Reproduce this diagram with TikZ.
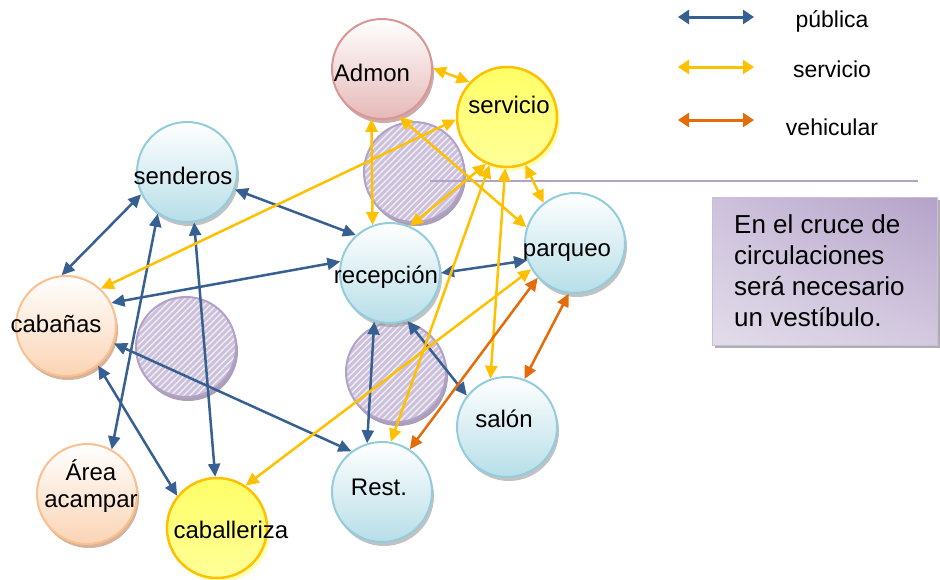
\documentclass[tikz,border=0pt]{standalone}
\usepackage{fontspec}
\setmainfont{Liberation Sans}
\usetikzlibrary{arrows.meta,shadows,patterns.meta,shadings}

\definecolor{pub}{HTML}{376092}
\definecolor{ser}{HTML}{FFC000}
\definecolor{veh}{HTML}{E46C0A}
\definecolor{bluefill}{HTML}{B7DEE8}
\definecolor{blueline}{HTML}{93CDDD}
\definecolor{orfill}{HTML}{FBD4B4}
\definecolor{orline}{HTML}{FAC090}
\definecolor{redfill}{HTML}{E6B9B8}
\definecolor{redline}{HTML}{D99694}
\definecolor{yeltop}{HTML}{FFFF66}
\definecolor{yelbot}{HTML}{FFFF99}
\definecolor{yelshadow}{HTML}{FFFFB0}
\definecolor{lilac}{HTML}{CCC0DA}
\definecolor{lilacline}{HTML}{B3A2C7}
\definecolor{stripe}{HTML}{F0EDF5}
\definecolor{orshadow}{HTML}{CDA082}
\definecolor{redshadow}{HTML}{BE9696}
\definecolor{lilacshadow}{HTML}{9687A5}
\definecolor{noteUL}{HTML}{CDC1DC}
\definecolor{noteUR}{HTML}{B4A2C8}
\definecolor{noteLL}{HTML}{E2DCEA}
\definecolor{noteLR}{HTML}{D4CAE0}

\tikzset{
  base/.style={circle, minimum size=100pt, inner sep=0pt, line width=2pt},
  greyshadow/.style={drop shadow={shadow xshift=2pt, shadow yshift=-4pt, fill=gray!80, opacity=0.6}},
  bluenode/.style={base, greyshadow, draw=blueline, top color=white, bottom color=bluefill},
  ornode/.style={base, drop shadow={shadow xshift=2pt, shadow yshift=-4pt, fill=orshadow, opacity=0.8}, draw=orline, top color=white, bottom color=orfill},
  rednode/.style={base, drop shadow={shadow xshift=2pt, shadow yshift=-4pt, fill=redshadow, opacity=0.8}, draw=redline, top color=white, bottom color=redfill},
  yelnode/.style={base, drop shadow={shadow xshift=3pt, shadow yshift=-4pt, fill=yelshadow, opacity=1}, draw=ser, line width=2.5pt, top color=yeltop, bottom color=yelbot},
  hatch/.style={base, drop shadow={shadow xshift=2pt, shadow yshift=-4pt, fill=lilacshadow, opacity=0.8}, preaction={fill=lilac}, pattern={Lines[angle=45,distance=4.5pt,line width=1.4pt]}, pattern color=stripe, draw=lilacline},
  lbl/.style={font=\fontsize{24}{27}\selectfont, inner sep=0pt, anchor=base},
  legtxt/.style={font=\fontsize{23}{27}\selectfont, inner sep=0pt, anchor=base},
  pubA/.style={draw=pub, line width=2.5pt, arrows={Triangle[length=13pt,width=12pt]-Triangle[length=13pt,width=12pt]}},
  serA/.style={draw=ser, line width=2.5pt, arrows={Triangle[length=13pt,width=12pt]-Triangle[length=13pt,width=12pt]}},
  vehA/.style={draw=veh, line width=2.5pt, arrows={Triangle[length=13pt,width=12pt]-Triangle[length=13pt,width=12pt]}},
  legA/.style={line width=3pt, arrows={Triangle[length=11pt,width=14pt]-Triangle[length=11pt,width=14pt]}},
  divider/.style={draw=lilacline, line width=2pt},
  notebox/.style={rectangle, minimum width=225pt, minimum height=148pt, inner sep=0pt, draw=lilacline!70, line width=0.8pt,
    drop shadow={shadow xshift=3pt, shadow yshift=-3pt, fill=gray!70, opacity=0.9},
    upper left=noteUL, upper right=noteUR, lower left=noteLL, lower right=noteLR},
  notetext/.style={font=\fontsize{26}{31.3}\selectfont, inner sep=0pt, align=left}
}

\begin{document}
\begin{tikzpicture}[x=1pt, y=-1pt]
\useasboundingbox (0,0) rectangle (940,579);

% vestibule (crossing) circles
\node[hatch] (v1) at (414,172) {};
\node[hatch] (v2) at (186,347) {};
\node[hatch] (v3) at (396,372) {};

% divider line to note
\coordinate (divA) at (430,181);
\coordinate (divB) at (918,181);
\draw[divider] (divA) -- (divB);

% note box
\node[notebox] (note) at (824.5,271) {};
\node[notetext, anchor=north west] (noteT) at (734,214) {En el cruce de\\circulaciones\\será necesario\\un vestíbulo.};

% spaces
\node[rednode] (admon) at (382,69) {};
\node[yelnode] (serv) at (507,117) {};
\node[bluenode] (send) at (187,172) {};
\node[ornode] (cab) at (66,326) {};
\node[bluenode] (recep) at (390,273) {};
\node[bluenode] (parq) at (575,243) {};
\node[bluenode] (salon) at (507,427) {};
\node[bluenode] (rest) at (382,492) {};
\node[ornode] (area) at (87,494) {};
\node[yelnode] (caba) at (217,528) {};

% labels
\node[lbl] (admonT) at (372,81) {Admon};
\node[lbl] (servT) at (509,113) {servicio};
\node[lbl] (sendT) at (183,184) {senderos};
\node[lbl] (cabT) at (56,332) {cabañas};
\node[lbl] (recepT) at (386,283) {recepción};
\node[lbl] (parqT) at (567,256) {parqueo};
\node[lbl] (salonT) at (504,427) {salón};
\node[lbl] (restT) at (379,495) {Rest.};
\node[lbl] (cabaT) at (231,538) {caballeriza};
\node[lbl] (areaT1) at (91,480) {Área};
\node[lbl] (areaT2) at (91,507) {acampar};

% public circulation
\draw[pubA] (send.206) -- (cab.95);
\draw[pubA] (send.340) -- (recep.132);
\draw[pubA] (cab.27) -- (recep.167);
\draw[pubA] (send.235) -- (area.61);
\draw[pubA] (send.278) -- (caba.92);
\draw[pubA] (cab.309) -- (caba.141);
\draw[pubA] (cab.340) -- (rest.127);
\draw[pubA] (recep.252) -- (rest.107);
\draw[pubA] (recep.290) -- (salon.142);
\draw[pubA] (recep.0) -- (parq.200);

% service circulation
\draw[serA] (admon.1) -- (serv.137);
\draw[serA] (admon.258) -- (recep.110);
\draw[serA] (serv.183) -- (cab.47);
\draw[serA] (admon.290) -- (parq.162);
\draw[serA] (serv.246) -- (recep.67);
\draw[serA] (serv.250) -- (rest.80);
\draw[serA] (serv.291) -- (parq.128);
\draw[serA] (serv.268) -- (salon.109);
\draw[serA] (parq.211) -- (caba.56);

% vehicular circulation
\draw[vehA] (parq.223) -- (rest.57);
\draw[vehA] (parq.263) -- (salon.70);

% legend
\coordinate (l1a) at (678,17); \coordinate (l1b) at (754,17);
\coordinate (l2a) at (678,67); \coordinate (l2b) at (754,67);
\coordinate (l3a) at (678,120); \coordinate (l3b) at (754,120);
\draw[legA, draw=pub] (l1a) -- (l1b);
\draw[legA, draw=ser] (l2a) -- (l2b);
\draw[legA, draw=veh] (l3a) -- (l3b);
\node[legtxt] (lt1) at (832,27) {pública};
\node[legtxt] (lt2) at (832,77) {servicio};
\node[legtxt] (lt3) at (832,135) {vehicular};
\end{tikzpicture}
\end{document}
